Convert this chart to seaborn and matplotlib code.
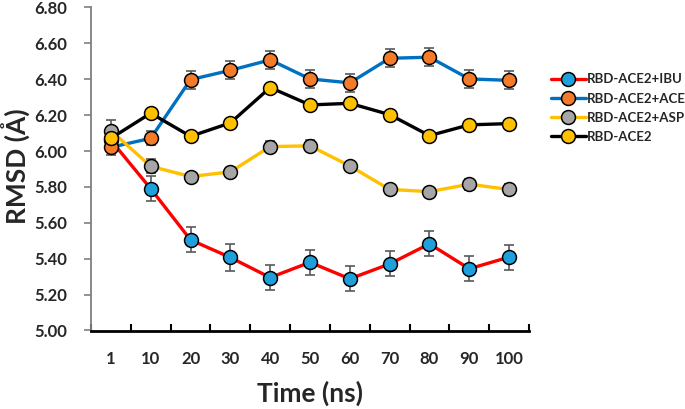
import numpy as np
import pandas as pd
import matplotlib.pyplot as plt
import seaborn as sns

# values
time_ns = ['1', '10', '20', '30', '40', '50', '60', '70', '80', '90', '100']

ibu = [6.06, 5.79, 5.505, 5.407, 5.295, 5.38, 5.288, 5.371, 5.483, 5.344, 5.409]
ibu_err = [0.03, 0.07, 0.07, 0.075, 0.07, 0.07, 0.07, 0.07, 0.07, 0.07, 0.07]

ace = [6.021, 6.071, 6.398, 6.45, 6.508, 6.402, 6.38, 6.517, 6.523, 6.402, 6.394]
ace_err = [0.045, 0.04, 0.05, 0.05, 0.05, 0.05, 0.05, 0.05, 0.05, 0.05, 0.05]

asp = [6.114, 5.915, 5.858, 5.884, 6.025, 6.029, 5.917, 5.786, 5.774, 5.815, 5.786]
asp_err = [0.06, 0.04, 0.02, 0.02, 0.03, 0.03, 0.02, 0.02, 0.02, 0.03, 0.03]

ace2 = [6.071, 6.211, 6.082, 6.157, 6.354, 6.257, 6.266, 6.203, 6.086, 6.146, 6.153]
ace2_err = [0.01, 0.01, 0.01, 0.01, 0.01, 0.01, 0.01, 0.01, 0.01, 0.01, 0.01]

series = [
    ('RBD-ACE2+IBU', ibu, ibu_err, '#FF0000', '#1F9FDB'),
    ('RBD-ACE2+ACE', ace, ace_err, '#0070C0', '#F47B2A'),
    ('RBD-ACE2+ASP', asp, asp_err, '#FFC000', '#A6A6A6'),
    ('RBD-ACE2', ace2, ace2_err, '#000000', '#FFC000'),
]

sns.set_style('white')
plt.rcParams['font.family'] = ['Lato', 'DejaVu Sans']
plt.rcParams['font.weight'] = 'bold'

fig = plt.figure(figsize=(6.85, 4.09), dpi=100)
ax = fig.add_axes([91 / 685, 1 - 330.5 / 409, (529 - 91) / 685, (330.5 - 7.5) / 409])

for i, (name, vals, errs, lc, fc) in enumerate(series):
    df = pd.DataFrame({'Time': time_ns, 'RMSD': vals})
    ax.errorbar(time_ns, vals, yerr=errs, fmt='none', ecolor='#595959',
                elinewidth=1.2, capsize=3.5, capthick=1.2, zorder=2 + i)
    sns.lineplot(
        data=df, x='Time', y='RMSD', ax=ax, sort=False,
        color=lc, linewidth=2.4, marker='o', markersize=10,
        markerfacecolor=fc, markeredgecolor='black', markeredgewidth=1.1,
        label=name, zorder=2.5 + i,
    )

# cosmetic stuff
ax.set_ylim(5.0, 6.8)
ax.set_xlim(-0.5, 10.5)
ax.set_yticks(np.arange(5.0, 6.81, 0.2))
ax.set_yticklabels([f'{v:.2f}' for v in np.arange(5.0, 6.81, 0.2)])
ax.set_xticks(np.arange(-0.5, 10.6, 1), minor=True)

ax.tick_params(axis='y', which='major', direction='out', length=5, width=1.2,
               color='#7F7F7F', labelsize=12, pad=12, left=True)
ax.tick_params(axis='x', which='major', length=0, labelsize=12, pad=15)
ax.tick_params(axis='x', which='minor', direction='in', length=5, width=1.5,
               color='black', bottom=True)

for lbl in ax.get_xticklabels() + ax.get_yticklabels():
    lbl.set_fontweight('bold')

sns.despine(ax=ax)
ax.spines['left'].set_color('#7F7F7F')
ax.spines['left'].set_linewidth(1.3)
ax.spines['bottom'].set_color('black')
ax.spines['bottom'].set_linewidth(2)

ax.set_xlabel('Time (ns)', fontsize=19, fontweight='bold')
ax.xaxis.set_label_coords(0.5, -0.155)
ax.set_ylabel('RMSD (Å)', fontsize=19, fontweight='bold')
ax.yaxis.set_label_coords(-0.138, 0.51)

ax.legend(
    loc='upper left', bbox_to_anchor=(546 / 685, 1 - 68 / 409),
    bbox_transform=fig.transFigure, frameon=False,
    prop={'size': 9.5, 'weight': 'bold'},
    handlelength=2.6, handletextpad=0.1, labelspacing=0.55, borderaxespad=0,
)

fig.savefig('out.png', dpi=100)
